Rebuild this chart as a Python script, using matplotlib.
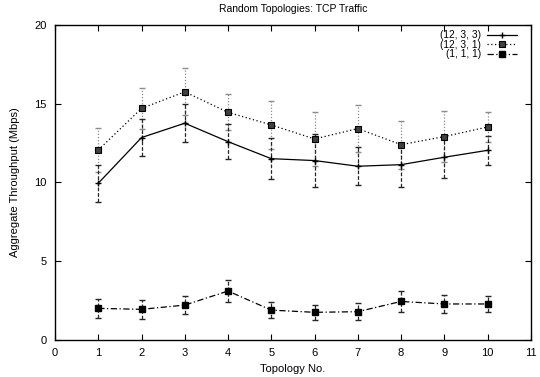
import numpy as np
import matplotlib
matplotlib.use("Agg")
import matplotlib.pyplot as plt

plt.rcParams['font.family'] = ['Liberation Sans', 'DejaVu Sans']

topo = [1, 2, 3, 4, 5, 6, 7, 8, 9, 10]

# (12, 3, 3)
t1233 = [9.95, 12.85, 13.76, 12.59, 11.51, 11.39, 11.03, 11.13, 11.60, 12.04]
e1233 = [1.17, 1.20, 1.20, 1.12, 1.30, 1.70, 1.20, 1.40, 1.30, 0.93]
# (12, 3, 1)
t1231 = [12.06, 14.70, 15.75, 14.45, 13.65, 12.76, 13.42, 12.40, 12.91, 13.52]
e1231 = [1.42, 1.32, 1.50, 1.15, 1.50, 1.74, 1.50, 1.52, 1.60, 0.94]
# (1, 1, 1)
t111 = [2.01, 1.95, 2.22, 3.11, 1.90, 1.76, 1.80, 2.45, 2.29, 2.29]
e111 = [0.60, 0.60, 0.55, 0.70, 0.50, 0.47, 0.55, 0.65, 0.60, 0.50]

fig = plt.figure(figsize=(5.4, 3.77), dpi=100)
ax = fig.add_axes([0.1019, 0.098, 0.8811, 0.836])

# error bars
eb = ax.errorbar(topo, t1231, yerr=e1231, fmt='none', ecolor='0.55', elinewidth=0.9, capsize=2)
eb[2][0].set_linestyle((0, (1, 1.5)))
eb = ax.errorbar(topo, t1233, yerr=e1233, fmt='none', ecolor='0.15', elinewidth=0.9, capsize=2)
eb[2][0].set_linestyle((0, (3, 1.5)))
eb = ax.errorbar(topo, t111, yerr=e111, fmt='none', ecolor='0.15', elinewidth=0.9, capsize=2)
eb[2][0].set_linestyle((0, (3, 1.5)))

ax.plot(topo, t1233, color='k', lw=0.9, marker='+', ms=5, mew=1, label='(12, 3, 3)')
ax.plot(topo, t1231, color='k', lw=0.9, ls=(0, (1, 2)), marker='s', ms=4.5,
        mfc='0.25', mec='k', mew=0.8, label='(12, 3, 1)')
ax.plot(topo, t111, color='k', lw=0.9, ls=(0, (5, 2, 1, 2)), marker='s', ms=4.5,
        mfc='k', mec='k', label='(1, 1, 1)')

ax.set_xlim(0, 11)
ax.set_ylim(0, 20)
ax.set_xticks(range(0, 12))
ax.set_yticks([0, 5, 10, 15, 20])
ax.tick_params(direction='in', top=True, right=True, length=4, width=0.8, labelsize=8, pad=6)
for s in ax.spines.values():
    s.set_linewidth(1)

ax.set_title('Random Topologies: TCP Traffic', fontsize=7.5, pad=9)
ax.set_xlabel('Topology No.', fontsize=8, labelpad=4)
ax.set_ylabel('Aggregate Throughput (Mbps)', fontsize=8, labelpad=10)

ax.legend(loc='upper right', bbox_to_anchor=(0.97, 0.983), frameon=False,
          markerfirst=False, fontsize=7.3, handlelength=2.9, labelspacing=-0.05,
          handletextpad=0.6, borderaxespad=0, borderpad=0)

fig.savefig('out.png', dpi=100)
